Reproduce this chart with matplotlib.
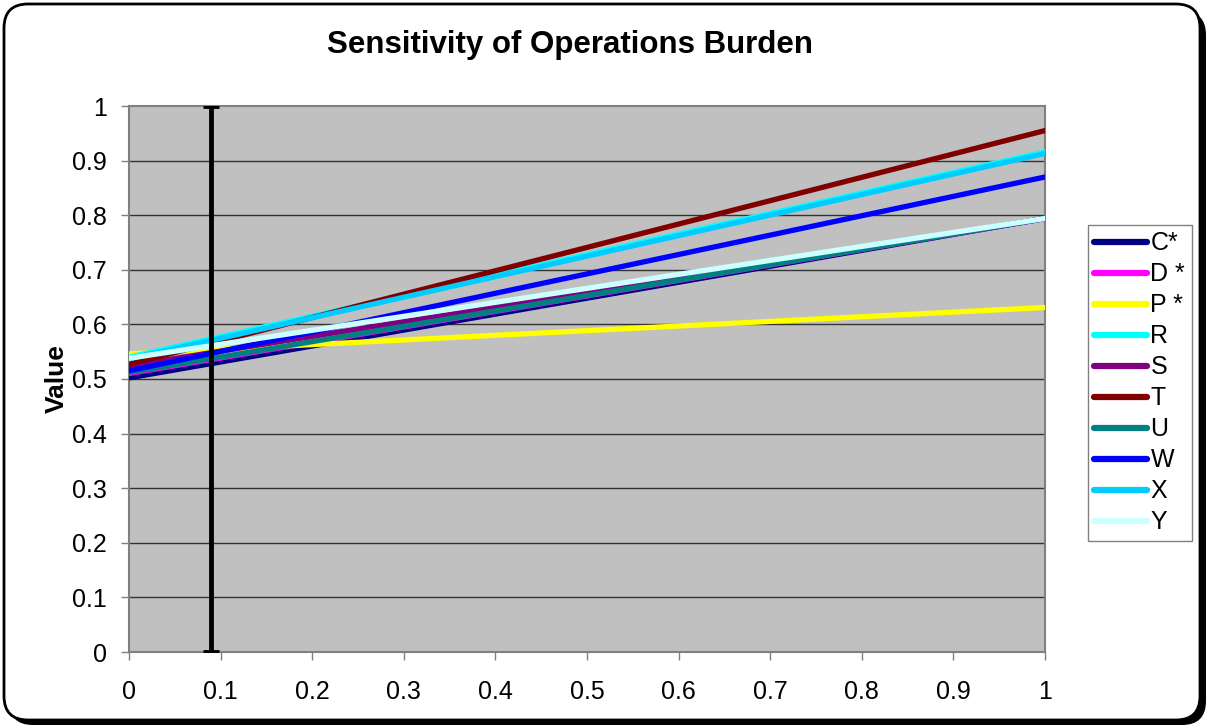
import matplotlib
matplotlib.use("Agg")
import matplotlib.pyplot as plt
from matplotlib.patches import FancyBboxPatch
from matplotlib.transforms import IdentityTransform

plt.rcParams['font.family'] = ['Liberation Sans', 'DejaVu Sans']

# Each series runs from weight 0 to weight 1
weights = [0.0, 1.0]
series_names = ["C*", "D *", "P *", "R", "S", "T", "U", "W", "X", "Y"]
series_colors = ["#000080", "#FF00FF", "#FFFF00", "#00FFFF", "#800080",
                 "#800000", "#008080", "#0000FF", "#00CCFF", "#CCFFFF"]
C_vals = [0.502, 0.794]
D_vals = [0.510, 0.794]
P_vals = [0.546, 0.631]
R_vals = [0.540, 0.916]
S_vals = [0.524, 0.794]
T_vals = [0.527, 0.955]
U_vals = [0.512, 0.794]
W_vals = [0.515, 0.870]
X_vals = [0.537, 0.913]
Y_vals = [0.538, 0.794]
series_values = [C_vals, D_vals, P_vals, R_vals, S_vals,
                 T_vals, U_vals, W_vals, X_vals, Y_vals]

# Current weight marker, drawn as a full-range error bar
current_weight = 0.089
marker_low, marker_high = 0.0, 1.0

x_ticks = [0, 0.1, 0.2, 0.3, 0.4, 0.5, 0.6, 0.7, 0.8, 0.9, 1]
tick_labels = ["0", "0.1", "0.2", "0.3", "0.4", "0.5", "0.6", "0.7", "0.8", "0.9", "1"]

W_PX, H_PX = 1209, 727
fig = plt.figure(figsize=(W_PX / 100, H_PX / 100), dpi=100)
fig.patch.set_facecolor("white")

# Rounded chart frame with drop shadow (pixel coordinates)
shadow = FancyBboxPatch((9, 2), 1197, 714, boxstyle="round,pad=0,rounding_size=24",
                        transform=IdentityTransform(), facecolor="black",
                        edgecolor="black", lw=0, zorder=0)
frame = FancyBboxPatch((4, 7), 1196, 716, boxstyle="round,pad=0,rounding_size=24",
                       transform=IdentityTransform(), facecolor="white",
                       edgecolor="black", lw=2, zorder=1)
fig.patches.extend([shadow, frame])

ax = fig.add_axes([129 / W_PX, 1 - 652 / H_PX, (1045 - 129) / W_PX, (652 - 106) / H_PX])
ax.set_zorder(2)
ax.set_facecolor("#C0C0C0")

for v in x_ticks[1:-1]:
    ax.axhline(v, color="#333333", lw=1.0, zorder=1)

for name, color, vals in zip(series_names, series_colors, series_values):
    ax.plot(weights, vals, color=color, lw=3.8, label=name,
            solid_capstyle="round", zorder=3)

mid = (marker_low + marker_high) / 2
ax.errorbar([current_weight], [mid], yerr=[[mid - marker_low], [marker_high - mid]],
            fmt="none", ecolor="black", elinewidth=3.5, capsize=6, capthick=3.5,
            zorder=4)

ax.set_xlim(0, 1)
ax.set_ylim(0, 1)
ax.set_xticks(x_ticks)
ax.set_xticklabels(tick_labels)
ax.set_yticks(x_ticks)
ax.set_yticklabels(tick_labels)
ax.tick_params(axis="both", direction="out", length=6, width=1, color="#808080",
               labelsize=18)
ax.tick_params(axis="x", pad=14)
ax.tick_params(axis="y", pad=10)
for side in ["left", "bottom", "right", "top"]:
    ax.spines[side].set_color("#808080")
    ax.spines[side].set_linewidth(1.5)

ax.set_ylabel("Value", fontsize=19, fontweight="bold", labelpad=2)
fig.text(570 / W_PX, 1 - 45 / H_PX, "Sensitivity of Operations Burden",
         ha="center", va="center", fontsize=22.5, fontweight="bold")

leg = ax.legend(loc="upper left", bbox_to_anchor=(1088 / W_PX, 1 - 225 / H_PX),
                bbox_transform=fig.transFigure, fontsize=18, frameon=True,
                fancybox=False, edgecolor="#808080", framealpha=1,
                borderpad=0.25, labelspacing=0.28, handlelength=2.1,
                handletextpad=0.15, borderaxespad=0)
leg.get_frame().set_linewidth(1.0)
for line in leg.get_lines():
    line.set_linewidth(4.5)

fig.savefig("out.png", dpi=100)
